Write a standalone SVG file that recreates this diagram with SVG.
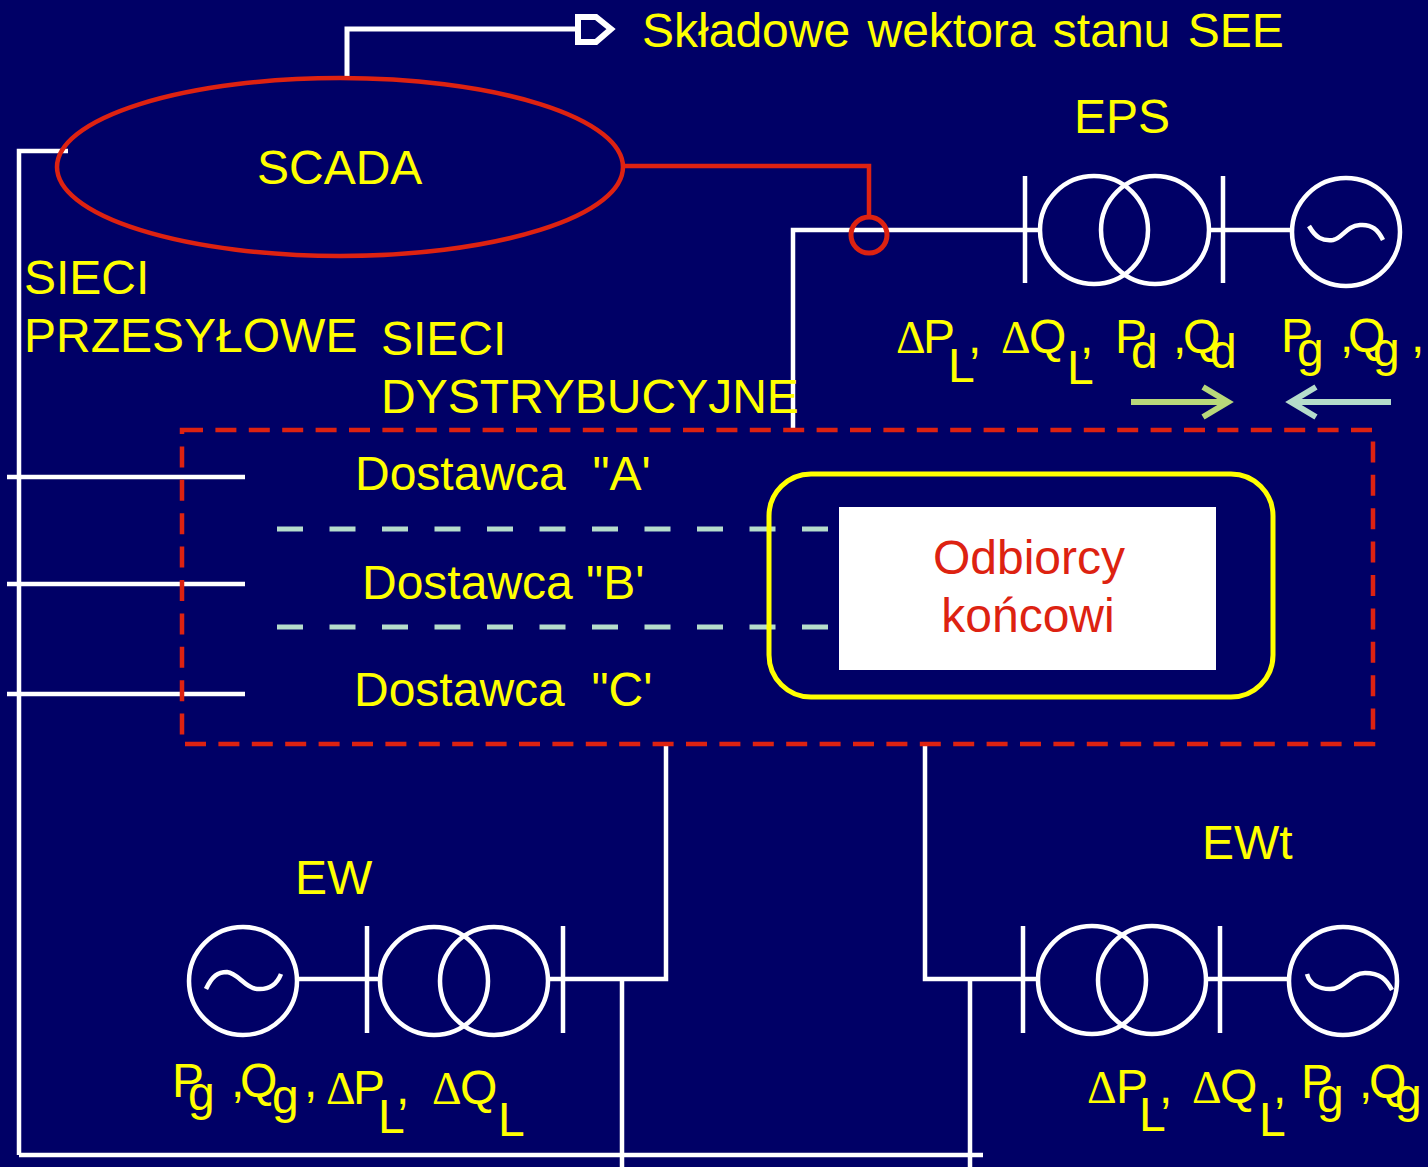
<svg xmlns="http://www.w3.org/2000/svg" width="1428" height="1167" viewBox="0 0 1428 1167">
<style>
text{font-family:"Liberation Sans",Arial,sans-serif;font-size:48px;fill:#ffff00}
.d{font-family:"Liberation Serif","Times New Roman",serif;font-size:46px}
.w{fill:none;stroke:#fff;stroke-width:4.5}
.r{fill:none;stroke:#dd2211;stroke-width:4.5}
.sym circle,.sym path,.sym line{fill:none;stroke:#fff;stroke-width:4.5}
</style>
<rect width="1428" height="1167" fill="#000066"/>
<g id="connectors">
<path class="w" d="M19 1155V151H68M19 1155H983M7 477H245M7 584H245M7 694H245"/>
<path class="w" d="M347 79V29H578" style="stroke-width:5"/>
<path d="M578 17H596L611 29L596 42H578Z" fill="#000066" stroke="#fff" stroke-width="6"/>
<path class="w" d="M793 429V230H1040M1210 230H1292"/>
<path class="r" d="M622 166H869V216"/>
<path class="w" d="M297 979H380M549 979H666V743M622 979V1167"/>
<path class="w" d="M925 743V979H1037M970 979V1167M1208 979H1290"/>
<path d="M1131 402H1226M1203 387L1228 402L1203 417" fill="none" stroke="#b8d87a" stroke-width="6"/>
<path d="M1391 402H1295M1316 387L1291 402L1316 417" fill="none" stroke="#b5dccb" stroke-width="6"/>
</g>
<g id="scada"><ellipse cx="340" cy="167" rx="283" ry="89" class="r"/><text x="257" y="184">SCADA</text></g>
<rect id="obszar" x="182" y="430" width="1191" height="314" fill="none" stroke="#dd2211" stroke-width="4.5" stroke-dasharray="21 12.4"/>
<g id="granice" fill="none" stroke="#b5dccb" stroke-width="5" stroke-dasharray="26 26.5"><path d="M277 529H828"/><path d="M277 627H828"/></g>
<rect id="ramka-odbiorcy" x="769" y="474" width="504" height="223" rx="42" fill="none" stroke="#ffff00" stroke-width="5"/>
<g id="odbiorcy"><rect x="839" y="507" width="377" height="163" fill="#fff"/>
<text x="1029" y="574" text-anchor="middle" style="fill:#dd2211">Odbiorcy</text>
<text x="1028" y="632" text-anchor="middle" style="fill:#dd2211">końcowi</text></g>
<g id="pomiar"><circle cx="869" cy="235" r="18" class="r" style="stroke-width:5"/></g>
<g id="eps" class="sym">
<line x1="1025" y1="176" x2="1025" y2="283"/><line x1="1223" y1="176" x2="1223" y2="283"/>
<circle cx="1094" cy="230" r="54"/><circle cx="1155" cy="230" r="54"/><circle cx="1346" cy="232" r="54"/>
<path d="M1309 226C1316 238 1322 241 1333 240C1343 238 1346 226 1360 225C1372 224 1378 230 1383 240"/>
</g>
<g id="ew" class="sym">
<line x1="367" y1="926" x2="367" y2="1033"/><line x1="563" y1="926" x2="563" y2="1033"/>
<circle cx="243" cy="981" r="54"/><circle cx="434" cy="981" r="54"/><circle cx="494" cy="981" r="54"/>
<path d="M206 989C212 976 218 972 227 972C238 973 245 988 257 989C269 990 277 984 281 974"/>
</g>
<g id="ewt" class="sym">
<line x1="1023" y1="926" x2="1023" y2="1033"/><line x1="1220" y1="926" x2="1220" y2="1033"/>
<circle cx="1092" cy="980" r="54"/><circle cx="1152" cy="980" r="54"/><circle cx="1343" cy="981" r="54"/>
<path d="M1307 974C1310 985 1320 989 1330 989C1345 989 1350 973 1365 973C1380 973 1386 979 1392 990"/>
</g>
<g id="etykiety">
<text x="642" y="47" style="word-spacing:4px">Składowe wektora stanu SEE</text>
<text x="1074" y="133">EPS</text>
<text x="295" y="894">EW</text>
<text x="1202" y="859">EWt</text>
<text x="24" y="294">SIECI</text>
<text x="24" y="352">PRZESYŁOWE</text>
<text x="381" y="355">SIECI</text>
<text x="381" y="413">DYSTRYBUCYJNE</text>
<text x="355" y="490" xml:space="preserve">Dostawca  "A'</text>
<text x="362" y="599">Dostawca "B'</text>
<text x="354" y="706" xml:space="preserve">Dostawca  "C'</text>
</g>
<g id="wielkosci-eps">
<text class="d" x="896" y="353">Δ</text><text x="923" y="353">P</text><text x="948" y="382">L</text><text x="968" y="353">,</text>
<text class="d" x="1001" y="353">Δ</text><text x="1029" y="353">Q</text><text x="1067" y="384">L</text><text x="1080" y="353">,</text>
<text x="1115" y="353">P</text><text x="1131" y="368">d</text><text x="1173" y="353">,</text><text x="1183" y="353">Q</text><text x="1210" y="368">d</text>
<text x="1281" y="352">P</text><text x="1297" y="366">g</text><text x="1340" y="352">,</text><text x="1348" y="352">Q</text><text x="1373" y="366">g</text><text x="1411" y="352">,</text>
</g>
<g id="wielkosci-ew">
<text x="172" y="1097">P</text><text x="188" y="1110">g</text><text x="231" y="1097">,</text><text x="240" y="1097">Q</text><text x="272" y="1113">g</text><text x="304" y="1097">,</text>
<text class="d" x="326" y="1104">Δ</text><text x="353" y="1104">P</text><text x="378" y="1133">L</text><text x="396" y="1104">,</text>
<text class="d" x="432" y="1104">Δ</text><text x="460" y="1104">Q</text><text x="498" y="1136">L</text>
</g>
<g id="wielkosci-ewt">
<text class="d" x="1087" y="1103">Δ</text><text x="1116" y="1103">P</text><text x="1139" y="1131">L</text><text x="1159" y="1103">,</text>
<text class="d" x="1192" y="1103">Δ</text><text x="1220" y="1103">Q</text><text x="1259" y="1136">L</text><text x="1273" y="1103">,</text>
<text x="1301" y="1098">P</text><text x="1317" y="1112">g</text><text x="1359" y="1098">,</text><text x="1369" y="1098">Q</text><text x="1395" y="1112">g</text>
</g>
</svg>
